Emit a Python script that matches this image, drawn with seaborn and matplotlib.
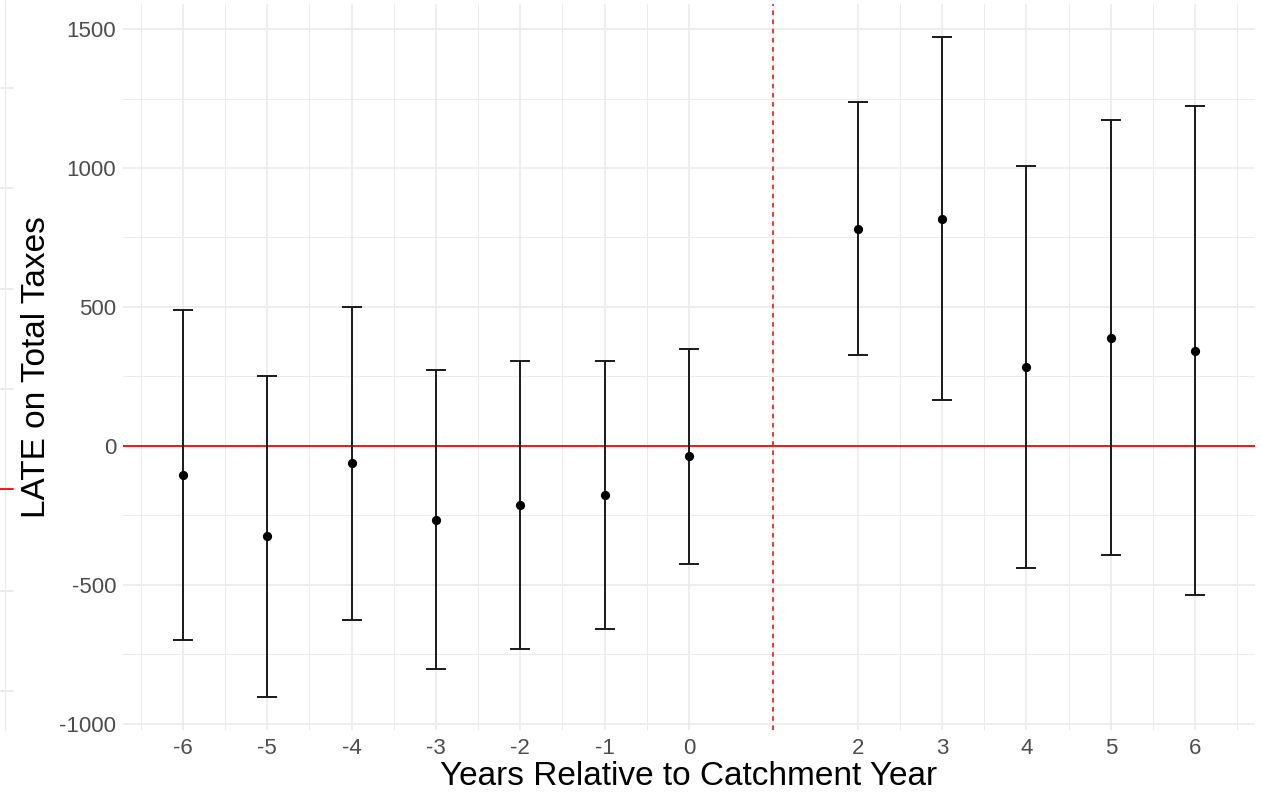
import matplotlib
matplotlib.use("Agg")
import matplotlib.pyplot as plt
from matplotlib.lines import Line2D
from matplotlib.ticker import FixedLocator
import seaborn as sns
import pandas as pd

# ---- data ----
years = [-6, -5, -4, -3, -2, -1, 0, 2, 3, 4, 5, 6]
estimate = [-105, -325, -62, -266, -213, -176, -38, 782, 817, 283, 389, 343]
ci_low = [-698, -904, -625, -804, -729, -657, -424, 327, 165, -439, -393, -538]
ci_high = [488, 253, 500, 273, 304, 304, 349, 1237, 1470, 1006, 1172, 1224]
x_ticks = [-6, -5, -4, -3, -2, -1, 0, 2, 3, 4, 5, 6]
y_ticks = [-1000, -500, 0, 500, 1000, 1500]
treat_line = 1

df = pd.DataFrame({"year": years, "est": estimate, "lo": ci_low, "hi": ci_high})

sns.set_theme(style="white")
plt.rcParams["font.family"] = ["Liberation Sans", "DejaVu Sans"]

W, H = 1261, 794
fig = plt.figure(figsize=(W / 100, H / 100), dpi=100)
ax = fig.add_axes([123 / W, 1 - 730 / H, (1255 - 123) / W, (730 - 4) / H])

grid_c = "#EBEBEB"
ax.set_xlim(-6.71, 6.71)
ax.set_ylim(-1022, 1590)
ax.xaxis.set_major_locator(FixedLocator(x_ticks))
minor_x = [-6.5, -5.5, -4.5, -3.5, -2.5, -1.5, -0.5, 1, 2.5, 3.5, 4.5, 5.5, 6.5]
ax.xaxis.set_minor_locator(FixedLocator(minor_x))
ax.yaxis.set_major_locator(FixedLocator(y_ticks))
ax.yaxis.set_minor_locator(FixedLocator([-750, -250, 250, 750, 1250]))
ax.grid(True, which="major", color=grid_c, linewidth=1.2)
ax.grid(True, which="minor", color=grid_c, linewidth=0.7)
ax.set_axisbelow(True)
for s in ax.spines.values():
    s.set_visible(False)

# reference lines
ax.axhline(0, color="#FF0000", linewidth=1.3, zorder=2)
ax.axvline(treat_line, color="#FF0000", linewidth=1.1, linestyle=(0, (3, 3)), zorder=2)

# error bars
ax.errorbar(df["year"], df["est"],
            yerr=[df["est"] - df["lo"], df["hi"] - df["est"]],
            fmt="none", ecolor="#1A1A1A", elinewidth=1.4, capsize=7.5, capthick=1.4, zorder=3)
sns.scatterplot(data=df, x="year", y="est", color="black", s=44, edgecolor="black",
                linewidth=0, ax=ax, zorder=4, legend=False)

ax.set_xticks(x_ticks)
ax.set_xticklabels([str(t) for t in x_ticks])
ax.set_yticks(y_ticks)
ax.set_yticklabels([str(t) for t in y_ticks])
ax.tick_params(axis="both", which="both", length=0, labelsize=16, labelcolor="#4D4D4D")
ax.tick_params(axis="x", pad=6)
ax.tick_params(axis="y", pad=5)

ax.set_xlabel("Years Relative to Catchment Year", fontsize=24, color="black", labelpad=1)
ax.set_ylabel("LATE on Total Taxes", fontsize=24, color="black", labelpad=5)

# faint remnants at the left edge of the reference image
fig.add_artist(Line2D([5 / W, 5 / W], [1 - 0 / H, 1 - 730 / H], color=grid_c, linewidth=1.0))
for yy in [88, 188, 289, 389, 591, 691]:
    fig.add_artist(Line2D([0, 13 / W], [1 - yy / H, 1 - yy / H], color=grid_c, linewidth=1.3))
fig.add_artist(Line2D([0, 13 / W], [1 - 489 / H, 1 - 489 / H], color="#FF0000", linewidth=1.3))

fig.savefig("out.png", dpi=100)
